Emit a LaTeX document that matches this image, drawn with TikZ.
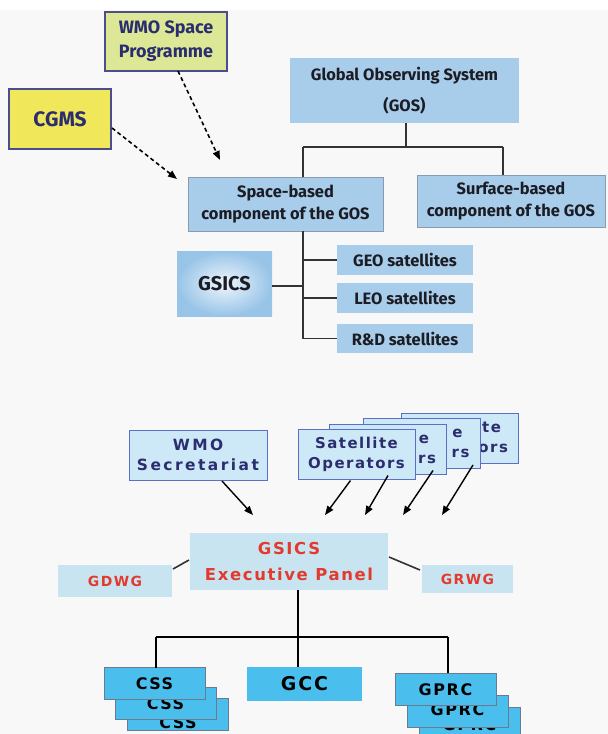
\documentclass[tikz,border=0pt]{standalone}
\usepackage{fontspec}
\usetikzlibrary{arrows.meta,calc}
\newfontfamily\topfont{Fira Sans}
\newfontfamily\botfont[LetterSpace=10]{DejaVu Sans}
\newfontfamily\secfont[LetterSpace=16]{DejaVu Sans}
\definecolor{gosblue}{HTML}{A7CDEB}
\definecolor{gsicsedge}{HTML}{98C4E8}
\definecolor{gsicsmid}{HTML}{EEF5FB}
\definecolor{grayedge}{HTML}{8A9AB0}
\definecolor{topink}{HTML}{1C1C24}
\definecolor{wmoyg}{HTML}{DCE896}
\definecolor{cgmsy}{HTML}{F0E85A}
\definecolor{navyedge}{HTML}{4B4D8C}
\definecolor{navy}{HTML}{2B2D6E}
\definecolor{oplight}{HTML}{CDE8F6}
\definecolor{opedge}{HTML}{5B6FC4}
\definecolor{execblue}{HTML}{C8E4F0}
\definecolor{execred}{HTML}{E23A2E}
\definecolor{grpcyan}{HTML}{4ABEEC}
\definecolor{cyanedge}{HTML}{6B7B8F}
\definecolor{lineg}{HTML}{333333}
\definecolor{bgpale}{HTML}{F8F8F8}
\begin{document}
\begin{tikzpicture}[x=1bp,y=-1bp,
  every node/.style={inner sep=0pt,outer sep=0pt,align=center},
  gosbox/.style={fill=gosblue,text=topink,font=\topfont\bfseries\fontsize{16.5}{31}\selectfont},
  compbox/.style={fill=gosblue,draw=grayedge,line width=0.8bp,text=topink,font=\topfont\bfseries\fontsize{16.5}{22}\selectfont},
  satbox/.style={fill=gosblue,text=topink,font=\topfont\bfseries\fontsize{16.5}{20}\selectfont},
  gsicsbox/.style={inner color=gsicsmid,outer color=gsicsedge,text=topink,font=\topfont\bfseries\fontsize{20}{24}\selectfont},
  srcbox/.style={draw=navyedge,line width=1.2bp,text=navy,font=\topfont\bfseries\fontsize{18}{24}\selectfont},
  opbox/.style={fill=oplight,draw=opedge,line width=1bp,text=navy,font=\botfont\bfseries\fontsize{15}{20}\selectfont,minimum width=117bp,minimum height=50bp},
  optext/.style={text=navy,font=\botfont\bfseries\fontsize{15}{20}\selectfont,anchor=base east},
  execbox/.style={fill=execblue,text=execred,font=\botfont\bfseries\fontsize{16.5}{26}\selectfont},
  wgbox/.style={fill=execblue,text=execred,font=\botfont\bfseries\fontsize{14}{16}\selectfont},
  grpbox/.style={fill=grpcyan,draw=cyanedge,line width=0.8bp,minimum width=101bp,minimum height=32bp},
  grptext/.style={text=black,font=\botfont\bfseries\fontsize{16}{18}\selectfont},
  conn/.style={draw=lineg,line width=1.4bp},
  bconn/.style={draw=black,line width=2bp},
  darr/.style={draw=black,dashed,dash pattern=on 4bp off 3bp,line width=1.6bp,-{Triangle[length=9bp,width=7bp]}},
  sarr/.style={draw=black,line width=1.4bp,-{Triangle[length=9bp,width=7bp]}}
]
\useasboundingbox (0,0) rectangle (608,734);
\fill[white] (0,0) rectangle (608,734);
\fill[bgpale] (0,10) rectangle (608,734);

% ---- upper part ----
\node[srcbox,fill=wmoyg,minimum width=122bp,minimum height=59bp] (wmosp) at (166,41.5) {WMO Space\\Programme};
\node[srcbox,fill=cgmsy,minimum width=102bp,minimum height=60bp,font=\topfont\bfseries\fontsize{21}{24}\selectfont] (cgms) at (60,119) {CGMS};
\node[gosbox,minimum width=229bp,minimum height=65bp] (gos) at (404.5,90.5) {Global Observing System\\(GOS)};
\node[compbox,minimum width=195bp,minimum height=54bp] (space) at (285.5,204) {Space-based\\component of the GOS};
\node[compbox,minimum width=188bp,minimum height=52bp] (surface) at (511,201) {Surface-based\\component of the GOS};
\node[satbox,minimum width=136bp,minimum height=30bp] (geo) at (405,260) {GEO satellites};
\node[satbox,minimum width=136bp,minimum height=30bp] (leo) at (405,298) {LEO satellites};
\node[satbox,minimum width=136bp,minimum height=29bp] (rd) at (405,338.5) {R\&D satellites};
\node[gsicsbox,minimum width=95bp,minimum height=65bp] (gsics) at (224.5,283.5) {GSICS};

\coordinate (jl) at (303,147);
\coordinate (jr) at (503,147);
\coordinate (jm) at (406,147);
\draw[conn] (gos.south -| jm) -- (jm);
\draw[conn] (jl) -- (jr);
\draw[conn] (jl) -- (jl |- space.north);
\draw[conn] (jr) -- (jr |- surface.north);
\draw[conn] (jl |- space.south) -- (jl |- rd.west);
\draw[conn] (jl |- geo.west) -- (geo.west);
\draw[conn] (jl |- leo.west) -- (leo.west);
\draw[conn] (jl |- rd.west) -- (rd.west);
\coordinate (jg) at (303,286);
\draw[conn] (gsics.east |- jg) -- (jg);

\coordinate (t1) at (220,160);
\coordinate (t2) at (177,179);
\draw[darr] ($(wmosp.south)+(12,0)$) -- (t1);
\draw[darr] ($(cgms.east)+(1,9)$) -- (t2);

% ---- lower part ----
\node[opbox,minimum width=138bp,font=\secfont\bfseries\fontsize{15.5}{20}\selectfont] (wmosec) at (198,455) {WMO\\Secretariat};

\node[opbox] (op4) at (460,438) {};
\node[optext] (op4a) at (501,432.3) {te};
\node[optext] (op4b) at (508,452.3) {ors};
\node[opbox] (op3) at (421.5,443.5) {};
\node[optext] (op3a) at (462.5,437.8) {e};
\node[optext] (op3b) at (469.5,457.8) {rs};
\node[opbox] (op2) at (388,449.5) {};
\node[optext] (op2a) at (429,443.8) {e};
\node[optext] (op2b) at (436,463.8) {rs};
\node[opbox] (op1) at (356.5,454.5) {Satellite\\Operators};

\coordinate (a0) at (253,515);
\coordinate (a1) at (325,515);
\coordinate (a2) at (365,515);
\coordinate (a3) at (403,515);
\coordinate (a4) at (442,515);
\draw[sarr] ($(wmosec.south)+(24,1)$) -- (a0);
\draw[sarr] ($(op1.south)+(-6,1)$) -- (a1);
\draw[sarr] ($(op2.south)+(0,1)$) -- (a2);
\draw[sarr] ($(op3.south)+(11.5,2)$) -- (a3);
\draw[sarr] ($(op4.south)+(13,2)$) -- (a4);

\node[execbox,minimum width=198bp,minimum height=57bp] (exec) at (289,561.5) {GSICS\\Executive Panel};
\node[wgbox,minimum width=114bp,minimum height=32bp] (gdwg) at (115,581) {GDWG};
\node[wgbox,minimum width=91bp,minimum height=28bp] (grwg) at (467.5,579) {GRWG};
\draw[conn,line width=1.6bp] ($(gdwg.north east)+(1,4)$) -- ($(exec.west)+(-1,-1.5)$);
\draw[conn,line width=1.6bp] ($(exec.east)+(1,-4.5)$) -- ($(grwg.north west)+(-2,5)$);

\node[grpbox] (css3) at (178,714) {};
\node[grptext] (css3t) at (178,722.5) {CSS};
\node[grpbox] (css2) at (165.5,703) {};
\node[grptext] (css2t) at (165.5,704) {CSS};
\node[grpbox] (css1) at (154.5,683.5) {};
\node[grptext] (css1t) at (154.5,684) {CSS};
\node[fill=grpcyan,minimum width=115bp,minimum height=34bp,text=black,font=\botfont\bfseries\fontsize{19}{20}\selectfont] (gcc) at (304.5,684) {GCC};
\node[grpbox] (gprc3) at (469.5,723) {};
\node[grptext] (gprc3t) at (469.5,724.5) {GPRC};
\node[grpbox] (gprc2) at (457.5,711.5) {};
\node[grptext] (gprc2t) at (457.5,710) {GPRC};
\node[grpbox] (gprc1) at (445.5,689) {};
\node[grptext] (gprc1t) at (445.5,690) {GPRC};

\coordinate (bm) at (298,637);
\coordinate (bl) at (156,637);
\coordinate (br) at (448,637);
\draw[bconn] (bm |- exec.south) -- (bm |- gcc.north);
\draw[bconn] (bl) -- (br);
\draw[bconn] (bl) -- (bl |- css1.north);
\draw[bconn] (br) -- (br |- gprc1.north);
\end{tikzpicture}
\end{document}
